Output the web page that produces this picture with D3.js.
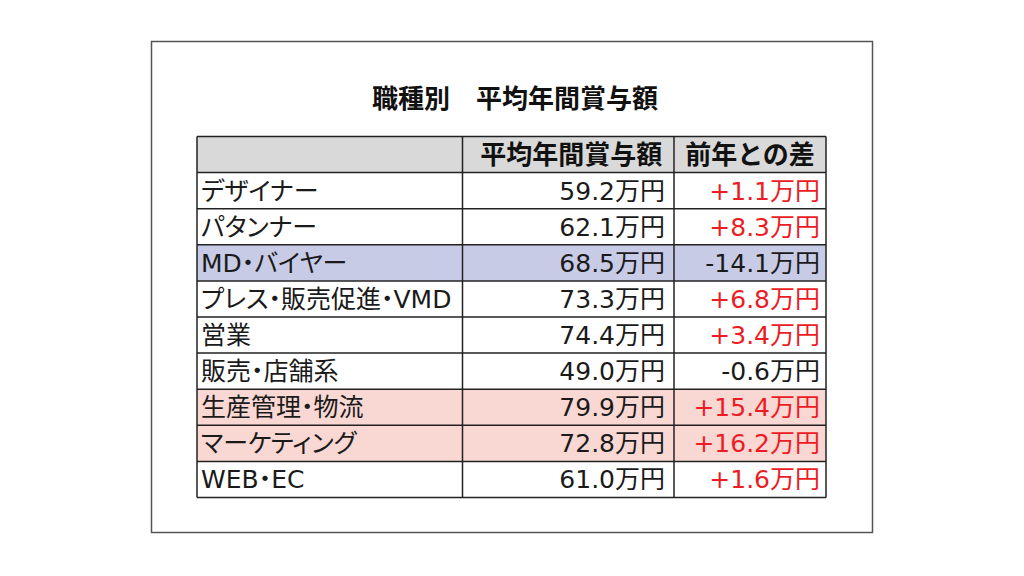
<!DOCTYPE html>
<html><head><meta charset="utf-8">
<script src="https://cdn.jsdelivr.net/npm/d3@7"></script>
<style>
html,body{margin:0;padding:0;background:#fff;}
svg{display:block;}
text{font-family:'DejaVu Sans','Noto Sans CJK JP',sans-serif;}
text.body{font-feature-settings:"palt" 1;}
</style></head>
<body>
<svg id="chart" width="1024" height="576"></svg>
<script>
const title = "職種別　平均年間賞与額";
const headers = ["", "平均年間賞与額", "前年との差"];
const categories = ["デザイナー","パタンナー","MD・バイヤー","プレス・販売促進・VMD","営業","販売・店舗系","生産管理・物流","マーケティング","WEB・EC"];
const bonus = [59.2, 62.1, 68.5, 73.3, 74.4, 49.0, 79.9, 72.8, 61.0];
const diff = [1.1, 8.3, -14.1, 6.8, 3.4, -0.6, 15.4, 16.2, 1.6];
const highlight = ["none","none","low","none","none","none","high","high","none"];
const unit = "万円";

const svg = d3.select("#chart");
const W = 1024, H = 576;
svg.append("rect").attr("width", W).attr("height", H).attr("fill", "#fff");

// outer frame
svg.append("rect").attr("x", 151.5).attr("y", 41.5).attr("width", 721).attr("height", 491)
  .attr("fill", "none").attr("stroke", "#555").attr("stroke-width", 1.5);

svg.append("text").attr("x", 515).attr("y", 99).attr("text-anchor", "middle")
  .attr("dy", "0.36em").attr("font-size", 26).attr("font-weight", "bold")
  .attr("font-family", "'Noto Sans CJK JP'").attr("fill", "#111").text(title);

const colEdges = [197, 462.5, 674, 826];
const rowKeys = d3.range(categories.length + 1);
const y = d3.scaleBand().domain(rowKeys).range([136.5, 497.5]).paddingInner(0).paddingOuter(0);
const x = d3.scaleOrdinal().domain([0,1,2,3]).range(colEdges);

const fillOf = d => d === "low" ? "#c8cbe6" : d === "high" ? "#f9d7d3" : "#fff";

const g = svg.append("g");
g.append("rect").attr("x", x(0)).attr("y", y(0)).attr("width", x(3) - x(0)).attr("height", y.bandwidth())
  .attr("fill", "#d9d9d9");
g.selectAll("rect.row").data(categories).join("rect").attr("class", "row")
  .attr("x", x(0)).attr("y", (d, i) => y(i + 1)).attr("width", x(3) - x(0)).attr("height", y.bandwidth())
  .attr("fill", (d, i) => fillOf(highlight[i]));

g.selectAll("text.hdr").data(headers).join("text").attr("class", "hdr")
  .attr("x", (d, i) => (x(i) + x(i + 1)) / 2 + (i === 1 ? 3 : 0)).attr("y", y(0) + y.bandwidth() / 2)
  .attr("dy", "0.36em").attr("text-anchor", "middle").attr("font-size", 26).attr("font-weight", "bold")
  .attr("font-family", "'Noto Sans CJK JP'").attr("fill", "#111").text(d => d);

const fs = 25;
g.selectAll("text.cat").data(categories).join("text").attr("class", "cat body")
  .attr("x", x(0) + 4).attr("y", (d, i) => y(i + 1) + y.bandwidth() / 2).attr("dy", "0.36em")
  .attr("font-size", fs).attr("fill", "#1a1a1a").text(d => d);

g.selectAll("text.bonus").data(bonus).join("text").attr("class", "bonus body")
  .attr("x", x(2) - 9).attr("y", (d, i) => y(i + 1) + y.bandwidth() / 2).attr("dy", "0.36em")
  .attr("text-anchor", "end").attr("font-size", fs).attr("fill", "#1a1a1a")
  .text(d => d3.format(".1f")(d) + unit);

g.selectAll("text.diff").data(diff).join("text").attr("class", "diff body")
  .attr("x", x(3) - 6).attr("y", (d, i) => y(i + 1) + y.bandwidth() / 2).attr("dy", "0.36em")
  .attr("text-anchor", "end").attr("font-size", fs).attr("fill", d => d > 0 ? "#ec1c24" : "#1a1a1a")
  .text(d => (d > 0 ? "+" : "-") + d3.format(".1f")(Math.abs(d)) + unit);

const lines = svg.append("g").attr("stroke", "#222").attr("stroke-width", 1.5);
lines.selectAll("line.h").data(d3.range(categories.length + 2)).join("line").attr("class", "h")
  .attr("x1", x(0)).attr("x2", x(3))
  .attr("y1", i => i <= categories.length ? y(i) : y(categories.length) + y.bandwidth())
  .attr("y2", i => i <= categories.length ? y(i) : y(categories.length) + y.bandwidth());
lines.selectAll("line.v").data([0,1,2,3]).join("line").attr("class", "v")
  .attr("x1", i => x(i)).attr("x2", i => x(i))
  .attr("y1", y(0)).attr("y2", y(categories.length) + y.bandwidth());
</script>
</body></html>
